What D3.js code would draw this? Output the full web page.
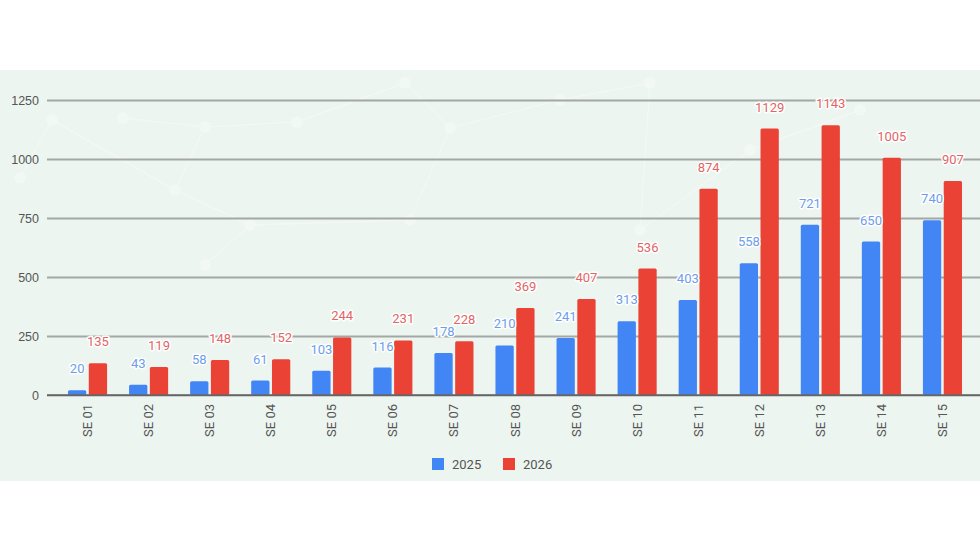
<!DOCTYPE html>
<html>
<head>
<meta charset="utf-8">
<script src="https://cdn.jsdelivr.net/npm/d3@7"></script>
<style>
	body { margin: 0; background: #fff; }
	svg { display: block; font-family: Roboto, "Liberation Sans", sans-serif; }
</style>
</head>
<body>
<div id="chart"></div>
<script>
'use strict';
(function(){

	// data
	var weeks = ['SE 01', 'SE 02', 'SE 03', 'SE 04', 'SE 05', 'SE 06', 'SE 07', 'SE 08',
		'SE 09', 'SE 10', 'SE 11', 'SE 12', 'SE 13', 'SE 14', 'SE 15'];
	var values2025 = [20, 43, 58, 61, 103, 116, 178, 210, 241, 313, 403, 558, 721, 650, 740];
	var values2026 = [135, 119, 148, 152, 244, 231, 228, 369, 407, 536, 874, 1129, 1143, 1005, 907];
	var seriesNames = ['2025', '2026'];
	var yTicks = [0, 250, 500, 750, 1000, 1250];

	var colors = { '2025': '#4285f4', '2026': '#ea4335' };
	var labelColors = { '2025': '#6d9eeb', '2026': '#e06666' };

	var width = 980, height = 551;

	var svg = d3.select('#chart')
		.append('svg')
		.attr('width', width)
		.attr('height', height);

	// background panel
	svg.append('rect')
		.attr('x', 0).attr('y', 70)
		.attr('width', width).attr('height', 411)
		.attr('fill', '#edf5f0');

	// faint network pattern in the background
	var deco = svg.append('g').attr('opacity', 0.3);
	var nodes = [[52, 120], [123, 118], [175, 190], [205, 127], [297, 122], [250, 225],
		[405, 83], [450, 128], [410, 220], [560, 100], [650, 83], [640, 230],
		[20, 178], [205, 265], [750, 150], [860, 110]];
	var links = [[0, 2], [2, 3], [3, 1], [3, 4], [4, 6], [6, 7], [7, 8], [8, 5], [5, 2],
		[7, 9], [9, 10], [10, 11], [0, 12], [5, 13], [11, 14], [14, 15]];
	deco.selectAll('line')
		.data(links)
		.enter()
		.append('line')
		.attr('x1', function (d) { return nodes[d[0]][0]; })
		.attr('y1', function (d) { return nodes[d[0]][1]; })
		.attr('x2', function (d) { return nodes[d[1]][0]; })
		.attr('y2', function (d) { return nodes[d[1]][1]; })
		.attr('stroke', '#ffffff')
		.attr('stroke-width', 1.5);
	deco.selectAll('circle')
		.data(nodes)
		.enter()
		.append('circle')
		.attr('cx', function (d) { return d[0]; })
		.attr('cy', function (d) { return d[1]; })
		.attr('r', 6)
		.attr('fill', '#ffffff');

	// scales
	var x = d3.scaleBand()
		.domain(weeks)
		.range([57, 973])
		.paddingInner(0.36)
		.paddingOuter(0.18);

	var xSub = d3.scaleBand()
		.domain(seriesNames)
		.range([0, x.bandwidth()])
		.paddingInner(0.12);

	var y = d3.scaleLinear()
		.domain([0, 1250])
		.range([395, 100]);

	// grid + y axis
	var yAxis = svg.append('g')
		.attr('transform', 'translate(47,0)')
		.call(d3.axisRight(y)
			.tickValues(yTicks)
			.tickSize(width - 47)
			.tickFormat(d3.format('d')));
	yAxis.select('.domain').remove();
	yAxis.selectAll('.tick line')
		.attr('stroke', function (d) { return d === 0 ? '#666' : '#a3a8a5'; })
		.attr('stroke-width', function (d) { return d === 0 ? 1.5 : 2; });
	yAxis.selectAll('.tick text')
		.attr('x', -8)
		.attr('text-anchor', 'end')
		.attr('fill', '#555')
		.attr('font-size', 12.5);

	// bars
	var rows = weeks.map(function (w, i) {
		return { week: w, values: [
			{ key: '2025', value: values2025[i] },
			{ key: '2026', value: values2026[i] }
		] };
	});

	var groups = svg.selectAll('.group')
		.data(rows)
		.enter()
		.append('g')
		.attr('class', 'group')
		.attr('transform', function (d) { return 'translate(' + x(d.week) + ',0)'; });

	groups.selectAll('rect')
		.data(function (d) { return d.values; })
		.enter()
		.append('rect')
		.attr('x', function (d) { return xSub(d.key); })
		.attr('y', function (d) { return y(d.value); })
		.attr('width', xSub.bandwidth())
		.attr('height', function (d) { return y(0) - y(d.value); })
		.attr('rx', 1.5)
		.attr('fill', function (d) { return colors[d.key]; });

	// baseline over the bars
	svg.append('line')
		.attr('x1', 47).attr('x2', width)
		.attr('y1', y(0)).attr('y2', y(0))
		.attr('stroke', '#666')
		.attr('stroke-width', 1.5);

	// value labels
	groups.selectAll('.val')
		.data(function (d) { return d.values; })
		.enter()
		.append('text')
		.attr('class', 'val')
		.attr('x', function (d) { return xSub(d.key) + xSub.bandwidth() / 2; })
		.attr('y', function (d) { return y(d.value) - 17; })
		.attr('text-anchor', 'middle')
		.attr('font-size', 13)
		.attr('fill', function (d) { return labelColors[d.key]; })
		.attr('stroke', '#ffffff')
		.attr('stroke-width', 3)
		.attr('stroke-linejoin', 'round')
		.attr('paint-order', 'stroke')
		.text(function (d) { return d.value; });

	// x axis labels
	svg.selectAll('.xlab')
		.data(weeks)
		.enter()
		.append('text')
		.attr('class', 'xlab')
		.attr('transform', function (d) {
			return 'translate(' + (x(d) + x.bandwidth() / 2 + 4.5) + ',404) rotate(-90)';
		})
		.attr('text-anchor', 'end')
		.attr('font-size', 13)
		.attr('fill', '#555')
		.text(function (d) { return d; });

	// legend
	var legend = svg.append('g')
		.attr('transform', 'translate(432,458)');
	var items = legend.selectAll('g')
		.data(seriesNames)
		.enter()
		.append('g')
		.attr('transform', function (d, i) { return 'translate(' + (i * 71) + ',0)'; });
	items.append('rect')
		.attr('width', 12).attr('height', 12)
		.attr('fill', function (d) { return colors[d]; });
	items.append('text')
		.attr('x', 20).attr('y', 11)
		.attr('font-size', 13)
		.attr('fill', '#555')
		.text(function (d) { return d; });

}());
</script>
</body>
</html>
